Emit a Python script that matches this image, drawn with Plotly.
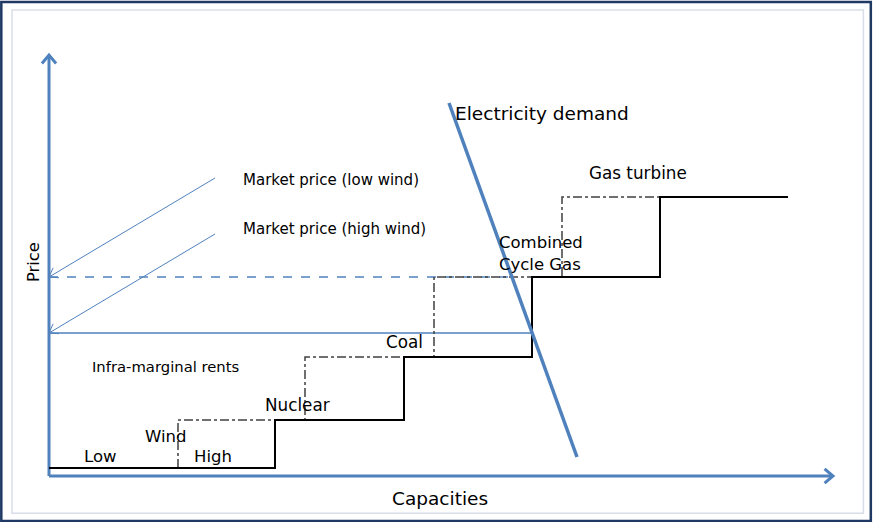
import math
import plotly.graph_objects as go

# ---------------- data (capacity units, price units; origin at axes corner) ----------------
# supply curve with high wind (solid)
supply_high_wind_cap = [0, 226, 226, 355, 355, 483, 483, 611, 611, 739]
supply_high_wind_price = [8, 8, 56, 56, 119, 119, 199, 199, 279, 279]
# supply curve with low wind (dash-dot)
supply_low_wind_cap = [129, 129, 256, 256, 385, 385, 513, 513, 611]
supply_low_wind_price = [8, 56, 56, 119, 119, 199, 199, 279, 279]
# demand curve
demand_cap = [400, 528]
demand_price = [373, 19]
# market prices
price_low_wind = 199
price_high_wind = 143
price_low_wind_end = 466
price_high_wind_end = 483
# callout lines (start -> arrow tip on price axis)
callout_low_cap = [166, 0]
callout_low_price = [298, 199]
callout_high_cap = [166, 0]
callout_high_price = [242, 143]
# axes extents
x_axis_end = 784
y_axis_end = 421

# labels: text, capacity, price, size, anchor
labels = [
    ("Market price (low wind)", 192, 296, 15, "left"),
    ("Market price (high wind)", 192, 247, 15, "left"),
    ("Electricity demand", 404, 363, 18.5, "left"),
    ("Gas turbine", 538, 303, 16.8, "left"),
    ("Combined", 448, 234, 16.5, "left"),
    ("Cycle Gas", 448, 212, 16.5, "left"),
    ("Coal", 335, 134, 16.8, "left"),
    ("Infra-marginal rents", 41, 110, 14.8, "left"),
    ("Nuclear", 214, 71, 16.8, "left"),
    ("Wind", 94, 40, 16.5, "left"),
    ("Low", 33, 20, 16.5, "left"),
    ("High", 143, 20, 16.5, "left"),
    ("Capacities", 391, -22, 18.5, "center"),
]

BLUE = "#4F81BD"
FONT = "'DejaVu Sans', sans-serif"

fig = go.Figure()


def chevron(x0, y0, x1, y1, length=10, angle=40):
    """Open arrowhead at (x1, y1) pointing from (x0, y0)."""
    d = math.atan2(y1 - y0, x1 - x0)
    xs, ys = [], []
    for sgn in (1, -1):
        a = d + math.pi - sgn * math.radians(angle)
        xs.append(x1 + length * math.cos(a))
        ys.append(y1 + length * math.sin(a))
    return [xs[0], x1, xs[1]], [ys[0], y1, ys[1]]


def line(xs, ys, color, width, dash="solid"):
    fig.add_trace(go.Scatter(x=xs, y=ys, mode="lines",
                             line=dict(color=color, width=width, dash=dash),
                             hoverinfo="skip", showlegend=False))


# axes with arrows
line([0, x_axis_end], [0, 0], BLUE, 3)
cx, cy = chevron(0, 0, x_axis_end, 0, 11, 40)
line(cx, cy, BLUE, 3)
line([0, 0], [0, y_axis_end], BLUE, 3)
cx, cy = chevron(0, 0, 0, y_axis_end, 11, 40)
line(cx, cy, BLUE, 3)

# market price lines
line([0, price_low_wind_end], [price_low_wind, price_low_wind], BLUE, 1.5, "dash")
line([0, price_high_wind_end], [price_high_wind, price_high_wind], BLUE, 1.5)

# supply curves
line(supply_low_wind_cap, supply_low_wind_price, "#404040", 1.5, "dashdot")
line(supply_high_wind_cap, supply_high_wind_price, "black", 2)

# demand
line(demand_cap, demand_price, BLUE, 3.5)

# callouts
line(callout_low_cap, callout_low_price, BLUE, 1)
cx, cy = chevron(callout_low_cap[0], callout_low_price[0], callout_low_cap[1], callout_low_price[1], 10, 35)
line(cx, cy, BLUE, 1)
line(callout_high_cap, callout_high_price, BLUE, 1)
cx, cy = chevron(callout_high_cap[0], callout_high_price[0], callout_high_cap[1], callout_high_price[1], 10, 35)
line(cx, cy, BLUE, 1)

for text, x, y, size, anchor in labels:
    fig.add_annotation(x=x, y=y, text=text, showarrow=False, xanchor=anchor,
                       yanchor="middle", font=dict(size=size, color="black", family=FONT))

fig.add_annotation(x=-16, y=214, text="Price", showarrow=False, textangle=-90,
                   xanchor="center", yanchor="middle",
                   font=dict(size=16.3, color="black", family=FONT))

# frames
fig.add_shape(type="rect", xref="paper", yref="paper", x0=0.0015, y0=0.002, x1=0.9975, y1=0.996,
              line=dict(color="#1F3864", width=2.5), layer="below")
fig.add_shape(type="rect", xref="paper", yref="paper", x0=0.0137, y0=0.017, x1=0.989, y1=0.981,
              line=dict(color="#D9DEE8", width=1.5), layer="below")

fig.update_layout(
    width=873, height=522,
    margin=dict(l=0, r=0, t=0, b=0),
    paper_bgcolor="white", plot_bgcolor="white",
    xaxis=dict(range=[-49, 824], visible=False, fixedrange=True),
    yaxis=dict(range=[-46, 476], visible=False, fixedrange=True),
    showlegend=False,
)

fig.write_html("out.html", config={"displayModeBar": False},
               post_script="document.body.style.margin='0';document.body.style.overflow='hidden';")
